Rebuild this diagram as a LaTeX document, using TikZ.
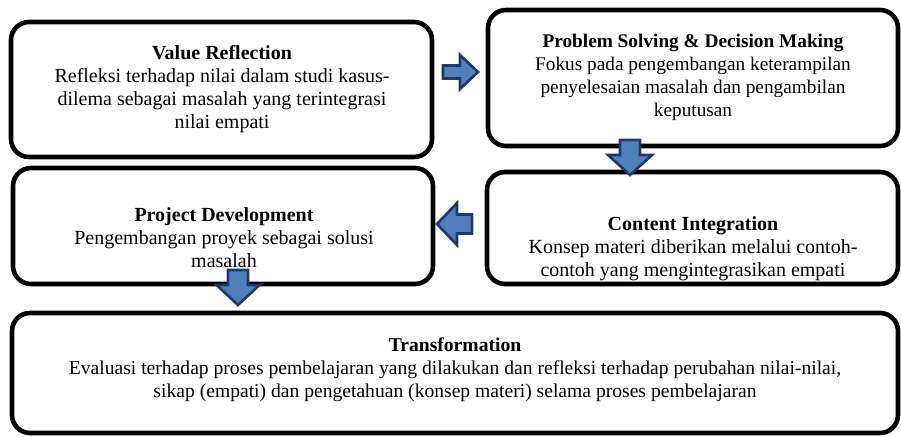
\documentclass[tikz,border=0pt]{standalone}
\usepackage{fontspec}
\setmainfont{Liberation Serif}
\definecolor{navy}{HTML}{1F3864}
\definecolor{arrblue}{HTML}{4F81BD}
\newcommand{\blockarr}[7]{%
  \begin{scope}[shift={#1}, rotate=#2]
    \filldraw[arr] ({-#3/2},{#5/2}) -- ({#3/2-#6},{#5/2}) -- ({#3/2-#6},{#4/2}) -- ({#3/2},0)
      -- ({#3/2-#6},{-#4/2}) -- ({#3/2-#6},{-#5/2}) -- ({-#3/2},{-#5/2}) -- cycle;
    \coordinate (#7) at (0,0);
  \end{scope}}
\begin{document}
\begin{tikzpicture}[x=1pt,y=-1pt,
  box/.style={draw=black, line width=4.6pt, rounded corners=18pt, inner sep=0pt},
  txt/.style={align=center, font=\fontsize{20}{23}\selectfont, inner sep=0pt},
  arr/.style={draw=navy, line width=2.6pt, fill=arrblue, line join=miter}]
\useasboundingbox (0,0) rectangle (901,436);
\node[box, minimum width=421pt, minimum height=135pt] (vr) at (221.5,89.5) {};
\node[box, minimum width=410pt, minimum height=136pt] (ps) at (693,78) {};
\node[box, minimum width=420pt, minimum height=116pt] (pd) at (223,226) {};
\node[box, minimum width=411pt, minimum height=112pt] (ci) at (692.5,228) {};
\node[box, minimum width=886pt, minimum height=120pt] (tr) at (455,373) {};

\node[txt] (vrt) at (222,89) {\textbf{Value Reflection}\\Refleksi terhadap nilai dalam studi kasus-\\dilema sebagai masalah yang terintegrasi\\nilai empati};
\node[txt, font=\fontsize{19.3}{23}\selectfont] (pst) at (693,77) {\textbf{Problem Solving \& Decision Making}\\Fokus pada pengembangan keterampilan\\penyelesaian masalah dan pengambilan\\keputusan};
\node[txt] (pdt) at (224,238) {\textbf{Project Development}\\Pengembangan proyek sebagai solusi\\masalah};
\node[txt] (cit) at (693,249) {\textbf{Content Integration}\\Konsep materi diberikan melalui contoh-\\contoh yang mengintegrasikan empati};
\node[txt, font=\fontsize{19.6}{23}\selectfont] (trt) at (455,370) {\textbf{Transformation}\\Evaluasi terhadap proses pembelajaran yang dilakukan dan refleksi terhadap perubahan nilai-nilai,\\sikap (empati) dan pengetahuan (konsep materi) selama proses pembelajaran};

\blockarr{(460.5,72)}{0}{35}{34}{13}{18}{a1}
\blockarr{(630,157.5)}{-90}{35}{44}{20}{20}{a2}
\blockarr{(454.5,224)}{180}{35}{42}{19}{20}{a3}
\blockarr{(238,287.5)}{-90}{35}{43}{20}{20}{a4}
\end{tikzpicture}
\end{document}
